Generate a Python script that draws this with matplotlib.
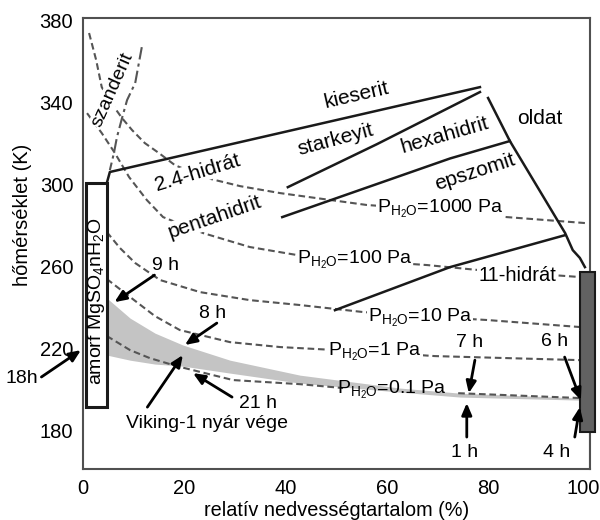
import numpy as np
import matplotlib.pyplot as plt
import matplotlib.transforms as mtransforms
from matplotlib.patches import Rectangle

plt.rcParams['font.family'] = ['Liberation Sans', 'DejaVu Sans']
plt.rcParams['mathtext.fontset'] = 'custom'
plt.rcParams['mathtext.rm'] = 'Liberation Sans'
plt.rcParams['mathtext.it'] = 'Liberation Sans:italic'

# isobars (relative humidity %, temperature K)
p1000_x = [1.2, 2.6, 3.7, 5.3, 7.7, 9.7, 12.2, 15.0, 18.1, 23.7, 31.0, 38.9, 56.0, 70.4, 83.6, 99.0]
p1000_y = [373.7, 360.5, 347.3, 340.5, 332.2, 326.3, 320.0, 315.1, 309.3, 303.4, 299.0, 295.6, 289.8, 287.3, 283.9, 281.0]
p100_x = [0.8, 3.7, 6.3, 9.1, 12.6, 15.8, 23.7, 32.9, 42.2, 53.6, 67.9, 78.3, 92.7, 98.4]
p100_y = [334.6, 324.9, 315.1, 303.4, 292.2, 283.9, 276.1, 269.3, 265.4, 262.9, 260.5, 258.0, 255.6, 254.6]
p10_x = [4.7, 7.3, 10.3, 15.2, 23.1, 32.9, 42.8, 55.2, 66.5, 79.7, 98.4]
p10_y = [276.6, 268.8, 261.5, 253.2, 247.3, 243.4, 241.0, 237.6, 235.6, 233.7, 230.2]
p1_x = [4.7, 9.3, 14.2, 19.1, 29.0, 38.9, 57.6, 69.4, 98.4]
p1_y = [253.7, 244.9, 235.6, 228.8, 222.9, 220.5, 218.0, 216.1, 214.1]
p01_x = [4.7, 9.3, 13.2, 18.5, 29.6, 42.8, 51.3, 60.9, 74.0, 98.4]
p01_y = [225.9, 219.0, 215.1, 211.2, 204.4, 202.4, 200.5, 199.5, 198.0, 195.6]

# phase boundaries
szand_x = [11.6, 10.3, 8.7, 7.7, 6.7, 6.1, 5.3]
szand_y = [366.8, 349.3, 341.0, 332.2, 322.9, 315.1, 306.8]
kies_x = [4.7, 5.3, 78.3]
kies_y = [300.5, 305.9, 347.3]
stark_x = [40.4, 58.0, 78.3]
stark_y = [298.5, 319.5, 344.9]
hexa_x = [39.3, 72.4, 84.2]
hexa_y = [283.9, 312.5, 321.0]
oldat_x = [79.9, 84.2, 95.1, 96.6, 98.0, 99.0]
oldat_y = [342.0, 321.0, 276.1, 267.8, 264.0, 259.5]
h11_x = [49.7, 72.4, 95.1]
h11_y = [238.5, 259.5, 275.1]

# Viking-1 band
band_x = [4.7, 9.3, 14.2, 19.7, 29.0, 42.8, 62.5, 74.4, 98.4]
band_top = [244.4, 234.6, 227.3, 221.5, 214.1, 206.8, 200.5, 198.0, 195.6]
band_bot = [216.6, 214.1, 212.2, 211.2, 207.8, 202.9, 198.5, 196.1, 194.6]

fig = plt.figure(figsize=(6, 5.2), dpi=100)
ax = fig.add_axes([0.1383, 0.098, 0.845, 0.8673])
ax.set_xlim(0, 100)
ax.set_ylim(161, 381)
ax.set_xticks([0, 20, 40, 60, 80, 100])
ax.set_yticks([180, 220, 260, 300, 340, 380])
ax.tick_params(length=0, pad=7, labelsize=14.5)
for s in ax.spines.values():
    s.set_color('#505050')
    s.set_linewidth(1.5)
# keep the last x tick label inside the figure
last = ax.get_xticklabels()[-1]
last.set_transform(last.get_transform() + mtransforms.ScaledTranslation(-7 / 100, 0, fig.dpi_scale_trans))

ax.fill_between(band_x, band_bot, band_top, color='#c4c4c4', lw=0, zorder=1)

dash = dict(color='#555555', lw=1.5, dashes=(3.2, 1.8), zorder=2)
for xs, ys in [(p1000_x, p1000_y), (p100_x, p100_y), (p10_x, p10_y), (p1_x, p1_y)]:
    ax.plot(xs, ys, **dash)
# 0.1 Pa isobar is broken where its label sits on the band
p01_xa = np.array(p01_x)
p01_ya = np.where((p01_xa > 52) & (p01_xa < 73), np.nan, p01_y)
ax.plot(p01_xa, p01_ya, **dash)
ax.plot(szand_x, szand_y, color='#555555', lw=1.5, dashes=(6, 2, 1.5, 2), zorder=6)

solid = dict(color='#1a1a1a', lw=1.8, zorder=3)
for xs, ys in [(kies_x, kies_y), (stark_x, stark_y), (hexa_x, hexa_y), (oldat_x, oldat_y), (h11_x, h11_y)]:
    ax.plot(xs, ys, **solid)

# amorphous box and liquid bar
ax.add_patch(Rectangle((0.6, 191.4), 4.1, 109.1, fill=False, ec='#1a1a1a', lw=2.2, zorder=3))
ax.text(2.6, 243, r'amorf MgSO$_4$nH$_2$O', rotation=90, ha='center', va='center', fontsize=14, zorder=5)
ax.add_patch(Rectangle((98, 179), 3, 78, fc='#626262', ec='#1a1a1a', lw=1.5, zorder=4, clip_on=False))
ax.plot([100, 100], [161, 179], color='#777777', lw=1.5, zorder=2)

box = dict(facecolor='white', edgecolor='none', pad=0.5)
labels = [
    ('szanderit', 5.9, 346.0, 66, 14),
    ('2.4-hidrát', 22.5, 305.4, 17, 15),
    ('pentahidrit', 26.0, 283.9, 19, 15),
    ('kieserit', 54.0, 343.4, 13, 15),
    ('starkeyit', 49.9, 321.5, 15, 15),
    ('hexahidrit', 71.4, 323.9, 16, 15),
    ('epszomit', 77.3, 305.9, 18, 15),
    ('oldat', 90.1, 332.2, 0, 15),
    ('11-hidrát', 85.6, 255.6, 0, 14.5),
    (r'P$_{\rm H_2O}$=1000 Pa', 70.4, 287.8, 0, 14),
    (r'P$_{\rm H_2O}$=100 Pa', 53.6, 262.9, 0, 14),
    (r'P$_{\rm H_2O}$=10 Pa', 66.5, 234.6, 0, 14),
    (r'P$_{\rm H_2O}$=1 Pa', 57.6, 218.0, 0, 14),
]
for t, x, y, r, fs in labels:
    ax.text(x, y, t, rotation=r, ha='center', va='center', fontsize=fs,
            rotation_mode='anchor', bbox=box, zorder=5)
ax.text(60.9, 199.5, r'P$_{\rm H_2O}$=0.1 Pa', ha='center', va='center', fontsize=14, zorder=5)

# time arrows: label, label pos, tail, head
arrows = [
    ('9 h', (16.2, 260.5), (14.1, 255.6), (6.2, 242.4)),
    ('8 h', (25.6, 237.1), (26.4, 232.2), (20.1, 221.5)),
    ('Viking-1 nyár vége', (24.5, 183.4), (12.7, 191.2), (19.7, 216.6)),
    ('21 h', (34.5, 193.2), (29.4, 196.1), (21.7, 207.8)),
    ('18h', (-12.0, 205.4), (-8.2, 205.9), (-0.4, 219.0)),
    ('7 h', (76.3, 222.9), (77.3, 214.1), (76.1, 198.0)),
    ('1 h', (75.3, 169.3), (75.7, 176.6), (75.7, 193.2)),
    ('6 h', (93.1, 223.4), (95.0, 215.6), (98.2, 194.6)),
    ('4 h', (93.5, 169.3), (97.0, 176.6), (98.0, 191.2)),
]
for t, tp, tail, head in arrows:
    ax.annotate('', xy=head, xytext=tail, annotation_clip=False,
                arrowprops=dict(arrowstyle='-|>,head_length=0.7,head_width=0.3',
                                lw=2, color='black', shrinkA=0, shrinkB=0), zorder=6)
    ax.text(tp[0], tp[1], t, ha='center', va='center', fontsize=14, zorder=6)

ax.set_xlabel('relatív nedvességtartalom (%)', fontsize=14.3, labelpad=2)
ax.set_ylabel('hőmérséklet (K)', fontsize=14.5)
ax.yaxis.set_label_coords(-0.1, 0.563)

fig.savefig('out.png', dpi=100)
